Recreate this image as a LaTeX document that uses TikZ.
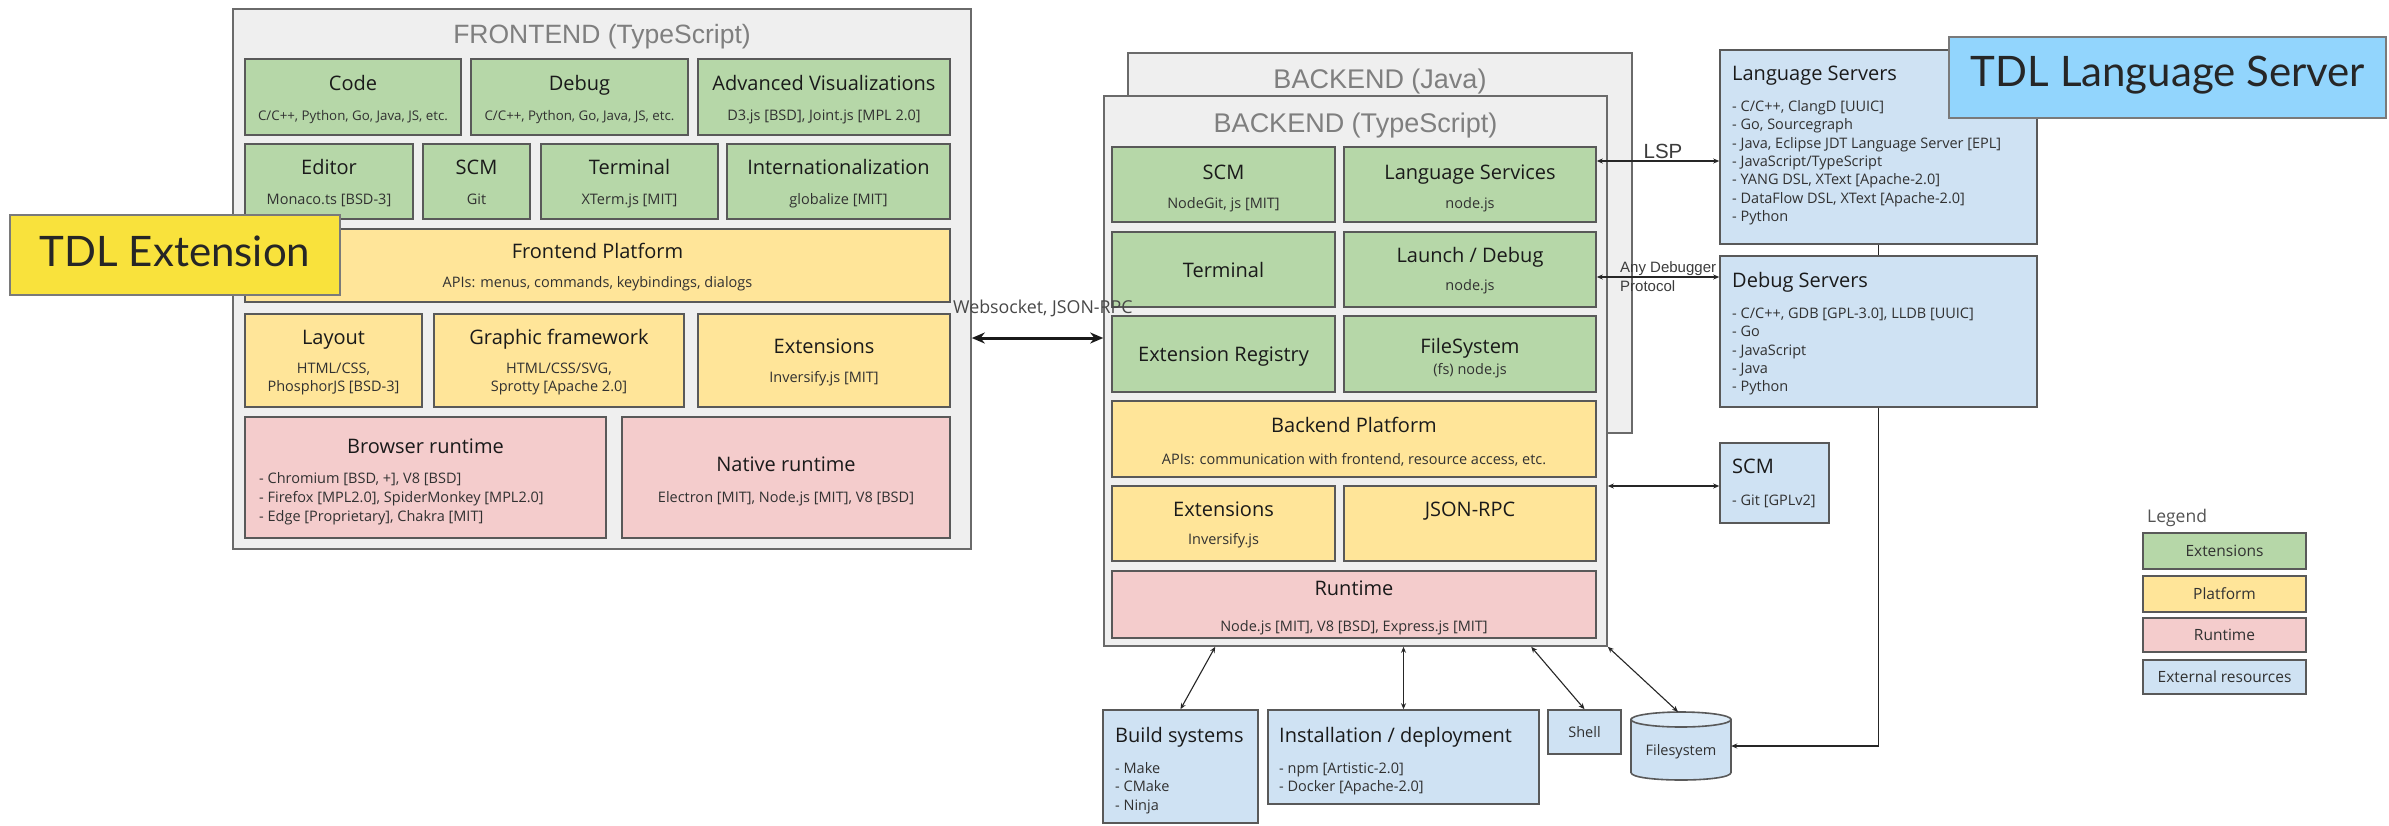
\documentclass[tikz,border=0pt]{standalone}
\usepackage{fontspec}
\setmainfont{Open Sans}
\newfontfamily\arialf{Liberation Sans}
\newfontfamily\latof{Lato}
\usetikzlibrary{arrows.meta,calc}
\definecolor{cext}{HTML}{B6D7A8}
\definecolor{cplat}{HTML}{FFE599}
\definecolor{crt}{HTML}{F4CCCC}
\definecolor{cres}{HTML}{CFE2F3}
\definecolor{ccont}{HTML}{EFEFEF}
\definecolor{cedge}{HTML}{595959}
\definecolor{ctxt}{HTML}{1A1A1A}
\definecolor{chdr}{HTML}{7F7F7F}
\definecolor{ctdly}{HTML}{F9E23C}
\definecolor{ctdlb}{HTML}{92D5FD}
\newcommand\mybx[7]{\node[#1, minimum width={(#5-#3)*1pt}, minimum height={(#6-#4)*1pt}] (#2) at ({(#3+#5)/2},{(#4+#6)/2}) {#7};}
\newcommand\myttl[4]{\node[ttl] (#1) at (#2.center |- 0,#3) {#4};}
\newcommand\mysub[4]{\node[subt] (#1) at (#2.center |- 0,#3) {#4};}
\newcommand\mylst[5]{\foreach \t [count=\i from 0] in {#5} {\node[lstf] (#1-\i) at (#2,{#3+\i*#4}) {\t};}}
\begin{document}
\begin{tikzpicture}[x=1pt,y=-1pt,
  base/.style={rectangle, draw=cedge, line width=1.6pt, inner sep=0pt},
  cont/.style={base, fill=ccont, draw=cedge!90},
  gbox/.style={base, fill=cext},
  ybox/.style={base, fill=cplat},
  rbox/.style={base, fill=crt},
  bbox/.style={base, fill=cres},
  ttl/.style={font=\fontsize{20}{24}\selectfont, text=ctxt, anchor=mid, inner sep=0pt, yshift=-5pt},
  subt/.style={font=\fontsize{14.5}{18}\selectfont, text=ctxt!90, anchor=mid, inner sep=0pt, yshift=-2pt},
  subs/.style={subt, font=\fontsize{13.3}{16}\selectfont},
  lstf/.style={font=\fontsize{14.5}{18}\selectfont, text=ctxt!90, anchor=mid west, inner sep=0pt, yshift=-3pt},
  ltl/.style={font=\fontsize{20}{24}\selectfont, text=ctxt, anchor=mid west, inner sep=0pt, yshift=-4pt},
  hdr/.style={font=\arialf\fontsize{26.5}{30}\selectfont, text=chdr, anchor=mid, inner sep=0pt, yshift=-6pt},
  lbl/.style={font=\arialf\fontsize{15}{19}\selectfont, text=ctxt!85, anchor=mid west, inner sep=0pt, yshift=-2pt},
  conn/.style={draw=black!85, line width=1.1pt, {Stealth[length=6pt,width=5pt]}-{Stealth[length=6pt,width=5pt]}},
  lgd/.style={base, font=\fontsize{15.5}{18}\selectfont, text=ctxt!90},
  tdlt/.style={font=\latof\fontsize{42}{46}\selectfont, text=black!85, anchor=mid, inner sep=0pt, yshift=-7pt}
]
\useasboundingbox (0,0) rectangle (2389,825);
\fill[white] (0,0) rectangle (2389,825);

% ---------------- FRONTEND ----------------
\mybx{cont}{fe}{233}{9}{971}{549}{}
\node[hdr] (fe-t) at (602,35) {FRONTEND (TypeScript)};

\mybx{gbox}{code}{245}{59}{461}{135}{}
\myttl{code-t}{code}{83}{Code}
\node[subs] (code-s) at (code.center |- 0,116) {C/C++, Python, Go, Java, JS, etc.};
\mybx{gbox}{debug}{471}{59}{688}{135}{}
\myttl{debug-t}{debug}{83}{Debug}
\node[subs] (debug-s) at (debug.center |- 0,116) {C/C++, Python, Go, Java, JS, etc.};
\mybx{gbox}{advviz}{698}{59}{950}{135}{}
\myttl{advviz-t}{advviz}{83}{Advanced Visualizations}
\mysub{advviz-s}{advviz}{116}{D3.js [BSD], Joint.js [MPL 2.0]}

\mybx{gbox}{editor}{245}{144}{413}{219}{}
\myttl{editor-t}{editor}{167}{Editor}
\mysub{editor-s}{editor}{200}{Monaco.ts [BSD-3]}
\mybx{gbox}{fscm}{423}{144}{530}{219}{}
\myttl{fscm-t}{fscm}{167}{SCM}
\mysub{fscm-s}{fscm}{200}{Git}
\mybx{gbox}{fterm}{541}{144}{718}{219}{}
\myttl{fterm-t}{fterm}{167}{Terminal}
\mysub{fterm-s}{fterm}{200}{XTerm.js [MIT]}
\mybx{gbox}{intl}{727}{144}{950}{219}{}
\myttl{intl-t}{intl}{167}{Internationalization}
\mysub{intl-s}{intl}{200}{globalize [MIT]}

\mybx{ybox}{fplat}{245}{229}{950}{302}{}
\myttl{fplat-t}{fplat}{251}{Frontend Platform}
\mysub{fplat-s}{fplat}{283}{APIs: menus, commands, keybindings, dialogs}

\mybx{ybox}{layout}{245}{314}{422}{407}{}
\myttl{layout-t}{layout}{337}{Layout}
\mysub{layout-s1}{layout}{369}{HTML/CSS,}
\mysub{layout-s2}{layout}{387}{PhosphorJS [BSD-3]}
\mybx{ybox}{graph}{434}{314}{684}{407}{}
\myttl{graph-t}{graph}{337}{Graphic framework}
\mysub{graph-s1}{graph}{369}{HTML/CSS/SVG,}
\mysub{graph-s2}{graph}{387}{Sprotty [Apache 2.0]}
\mybx{ybox}{fext}{698}{314}{950}{407}{}
\myttl{fext-t}{fext}{346}{Extensions}
\mysub{fext-s}{fext}{378}{Inversify.js [MIT]}

\mybx{rbox}{browser}{245}{417}{606}{538}{}
\myttl{browser-t}{browser}{446}{Browser runtime}
\mylst{brl}{259}{478}{19}{{- Chromium [BSD, +], V8 [BSD]},{- Firefox [MPL2.0], SpiderMonkey [MPL2.0]},{- Edge [Proprietary], Chakra [MIT]}}
\mybx{rbox}{native}{622}{417}{950}{538}{}
\myttl{native-t}{native}{464}{Native runtime}
\mysub{native-s}{native}{498}{Electron [MIT], Node.js [MIT], V8 [BSD]}

% TDL Extension
\mybx{base, fill=ctdly, draw=cedge!80}{tdlext}{10}{215}{340}{295}{}
\node[tdlt] (tdlext-t) at (175,257) {TDL Extension};

% ---------------- BACKEND ----------------
\mybx{cont}{bjava}{1128}{53}{1632}{433}{}
\node[hdr, font=\arialf\fontsize{27}{30}\selectfont, yshift=3pt] (bjava-t) at (bjava.center |- 0,83) {BACKEND (Java)};
\mybx{cont}{bts}{1104}{96}{1607}{646}{}
\node[hdr, font=\arialf\fontsize{27}{30}\selectfont, yshift=-1pt] (bts-t) at (bts.center |- 0,123) {BACKEND (TypeScript)};

\mybx{gbox}{bscm}{1112}{147}{1335}{222}{}
\myttl{bscm-t}{bscm}{172}{SCM}
\mysub{bscm-s}{bscm}{204}{NodeGit, js [MIT]}
\mybx{gbox}{lang}{1344}{147}{1596}{222}{}
\myttl{lang-t}{lang}{172}{Language Services}
\mysub{lang-s}{lang}{204}{node.js}
\mybx{gbox}{bterm}{1112}{232}{1335}{307}{}
\myttl{bterm-t}{bterm}{270}{Terminal}
\mybx{gbox}{launch}{1344}{232}{1596}{307}{}
\myttl{launch-t}{launch}{255}{Launch / Debug}
\mysub{launch-s}{launch}{286}{node.js}
\mybx{gbox}{extreg}{1112}{316}{1335}{392}{}
\myttl{extreg-t}{extreg}{354}{Extension Registry}
\mybx{gbox}{fsys}{1344}{316}{1596}{392}{}
\myttl{fsys-t}{fsys}{346}{FileSystem}
\mysub{fsys-s}{fsys}{370}{(fs) node.js}
\mybx{ybox}{bplat}{1112}{401}{1596}{477}{}
\myttl{bplat-t}{bplat}{425}{Backend Platform}
\mysub{bplat-s}{bplat}{460}{APIs: communication with frontend, resource access, etc.}
\mybx{ybox}{bext}{1112}{486}{1335}{561}{}
\myttl{bext-t}{bext}{509}{Extensions}
\mysub{bext-s}{bext}{540}{Inversify.js}
\mybx{ybox}{jrpc}{1344}{486}{1596}{561}{}
\myttl{jrpc-t}{jrpc}{509}{JSON-RPC}
\mybx{rbox}{brt}{1112}{571}{1596}{638}{}
\myttl{brt-t}{brt}{588}{Runtime}
\mysub{brt-s}{brt}{627}{Node.js [MIT], V8 [BSD], Express.js [MIT]}

% websocket
\draw[line width=3pt, black!90, {Stealth[length=13pt,width=11pt]}-{Stealth[length=13pt,width=11pt]}] (fe.east |- 0,338) -- (bts.west |- 0,338);
\node[font=\fontsize{17.8}{20}\selectfont, text=ctxt!80, anchor=mid west, inner sep=0pt, yshift=-4pt] (ws) at (953,307) {Websocket, JSON-RPC};

% ---------------- EXTERNAL ----------------
\mybx{bbox}{ls}{1720}{50}{2037}{244}{}
\node[ltl] (ls-t) at (1732,74) {Language Servers};
\mylst{lsl}{1732}{106}{18.3}{{- C/C++, ClangD [UUIC]},{- Go, Sourcegraph},{- Java, Eclipse JDT Language Server [EPL]},{- JavaScript/TypeScript},{- YANG DSL, XText [Apache-2.0]},{- DataFlow DSL, XText [Apache-2.0]},{- Python}}
\mybx{bbox}{dbg}{1720}{256}{2037}{407}{}
\node[ltl] (dbg-t) at (1732,281) {Debug Servers};
\mylst{dbl}{1732}{313}{18.3}{{- C/C++, GDB [GPL-3.0], LLDB [UUIC]},{- Go},{- JavaScript},{- Java},{- Python}}
\mybx{bbox}{escm}{1720}{443}{1829}{523}{}
\node[ltl] (escm-t) at (1732,467) {SCM};
\node[lstf] (escm-s) at (1732,500) {- Git [GPLv2]};

% TDL Language Server
\mybx{base, fill=ctdlb, draw=cedge!80}{tdlls}{1949}{37}{2386}{118}{}
\node[tdlt, yshift=1pt] (tdlls-t) at (2168,78) {TDL Language Server};

% bottom
\mybx{bbox}{build}{1103}{710}{1258}{823}{}
\node[ltl] (build-t) at (1115,736) {Build systems};
\mylst{bul}{1115}{768}{18.3}{{- Make},{- CMake},{- Ninja}}
\mybx{bbox}{inst}{1268}{710}{1539}{804}{}
\node[ltl] (inst-t) at (1279,736) {Installation / deployment};
\mylst{inl}{1279}{768}{18.3}{{- npm [Artistic-2.0]},{- Docker [Apache-2.0]}}
\mybx{bbox}{shell}{1548}{710}{1621}{754}{}
\node[subt, font=\fontsize{14.5}{17}\selectfont] (shell-t) at (shell.center |- 0,733) {Shell};
\node[rectangle, minimum width=100pt, minimum height=68pt, inner sep=0pt] (disk) at (1681,746) {};
\filldraw[fill=cres, draw=cedge, line width=1.6pt] (1631,719.5) -- (1631,772.5) .. controls (1631,782.5) and (1731,782.5) .. (1731,772.5) -- (1731,719.5) -- cycle;
\filldraw[fill=cres!70!white, draw=cedge, line width=1.6pt] (1681,719.5) ellipse [x radius=50, y radius=7.5];
\node[subt, font=\fontsize{14.5}{17}\selectfont] (disk-t) at (1681,751) {Filesystem};

% connectors right
\draw[conn] (lang.east |- 0,161) -- (ls.west |- 0,161);
\node[font=\arialf\fontsize{20.5}{24}\selectfont, text=ctxt!85, anchor=mid, inner sep=0pt, yshift=-6pt] (lsp) at (1663,150) {LSP};
\draw[conn] (launch.east |- 0,277) -- (dbg.west |- 0,277);
\node[lbl] (adp1) at (1620,268) {Any Debugger};
\node[lbl] (adp2) at (1620,287) {Protocol};
\draw[conn] (bts.east |- 0,486) -- (escm.west |- 0,486);
\draw[draw=black!85, line width=1.1pt] (ls.south) -- (dbg.north);
\draw[draw=black!85, line width=1.1pt, -{Stealth[length=6pt,width=5pt]}] (dbg.south) |- (disk.east);

% connectors bottom
\draw[conn] ($(bts.south west)+(112,0)$) -- (build.north);
\draw[conn] (inst.north |- bts.south) -- (inst.north);
\draw[conn] ($(bts.south west)+(428,0)$) -- (shell.north);
\draw[conn] (bts.south east) -- ($(disk.north)+(-3,0)$);

% legend
\node[font=\fontsize{17.5}{20}\selectfont, text=ctxt!75, anchor=mid west, inner sep=0pt, yshift=-3pt] (lg-t) at (2147,517) {Legend};
\mybx{lgd, fill=cext}{lg1}{2143}{533}{2306}{569}{Extensions}
\mybx{lgd, fill=cplat}{lg2}{2143}{576}{2306}{612}{Platform}
\mybx{lgd, fill=crt}{lg3}{2143}{618}{2306}{652}{Runtime}
\mybx{lgd, fill=cres}{lg4}{2143}{660}{2306}{694}{External resources}
\end{tikzpicture}
\end{document}
